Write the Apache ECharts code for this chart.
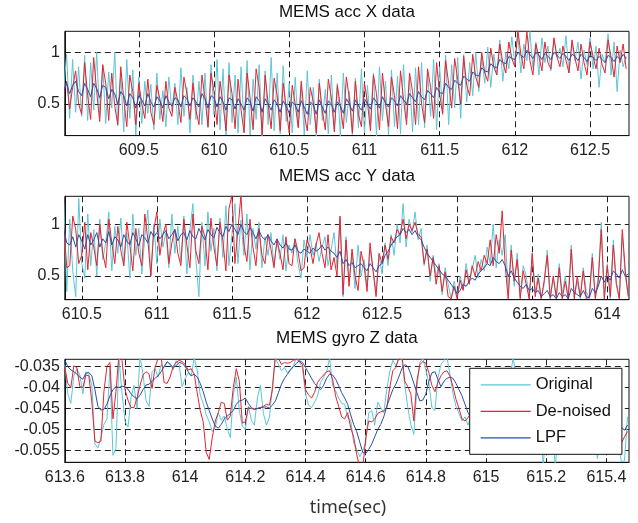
<!DOCTYPE html>
<html>
<head>
<meta charset="utf-8">
<script src="https://cdn.jsdelivr.net/npm/echarts@6/dist/echarts.min.js"></script>
<style>
  html, body { margin: 0; padding: 0; background: #ffffff; }
  #chart { width: 638px; height: 523px; }
</style>
</head>
<body>
<div id="chart"></div>
<script>
// Sample timing (seconds)
const accXStart = 609.0;
const accYStart = 610.38;
const gyroStart = 613.6;
const accStep = 0.02;
const gyroStep = 0.01;

// MEMS accelerometer X
const accXOriginal = [
  0.62, 0.98, 0.36, 0.93, 0.42, 0.86, 0.38, 0.97, 0.34, 0.9,
  0.44, 1.0, 0.37, 0.88, 0.31, 0.81, 0.46, 1.0, 0.29, 0.79,
  0.23, 0.93, 0.36, 0.83, 0.2, 0.76, 0.31, 0.72, 0.41, 0.69,
  0.25, 0.8, 0.35, 0.63, 0.28, 0.76, 0.43, 0.7, 0.3, 0.85,
  0.38, 0.66, 0.22, 0.78, 0.35, 0.72, 0.3, 0.8, 0.27, 0.88,
  0.4, 0.93, 0.25, 0.84, 0.2, 0.9, 0.32, 0.78, 0.22, 0.86,
  0.28, 0.92, 0.2, 0.74, 0.35, 0.88, 0.19, 0.82, 0.3, 0.95,
  0.24, 0.8, 0.21, 0.87, 0.33, 0.7, 0.22, 0.76, 0.28, 0.68,
  0.2, 0.82, 0.3, 0.66, 0.19, 0.74, 0.34, 0.64, 0.21, 0.78,
  0.26, 0.7, 0.19, 0.8, 0.32, 0.62, 0.2, 0.75, 0.27, 0.84,
  0.22, 0.68, 0.3, 0.8, 0.19, 0.86, 0.34, 0.72, 0.2, 0.83,
  0.28, 0.77, 0.21, 0.88, 0.36, 0.74, 0.23, 0.85, 0.3, 0.9,
  0.27, 0.8, 0.38, 0.93, 0.25, 0.86, 0.42, 0.97, 0.3, 0.88,
  0.46, 0.95, 0.36, 0.98, 0.52, 0.9, 0.58, 1.0, 0.62, 0.95,
  0.7, 1.05, 0.66, 0.98, 0.78, 1.12, 0.72, 1.0, 0.84, 1.15,
  0.88, 1.18, 0.8, 1.08, 0.92, 1.2, 0.85, 1.1, 0.78, 1.14,
  0.9, 1.06, 0.82, 1.12, 0.95, 1.04, 0.86, 1.16, 0.8, 1.08,
  0.92, 1.1, 0.74, 1.02, 0.88, 1.14, 0.84, 1.06, 0.66, 0.98,
  0.9, 1.18, 0.78, 1.1, 0.62, 1.02, 0.86, 0.96
];
const accXDenoised = [
  0.6, 0.72, 0.45, 0.66, 0.82, 0.5, 0.4, 0.9, 0.58, 0.35,
  0.95, 0.62, 0.33, 0.88, 0.7, 0.34, 0.8, 0.48, 0.3, 0.86,
  0.55, 0.28, 0.78, 0.62, 0.3, 0.7, 0.5, 0.36, 0.74, 0.42,
  0.3, 0.68, 0.55, 0.33, 0.72, 0.46, 0.38, 0.66, 0.52, 0.32,
  0.76, 0.6, 0.35, 0.7, 0.44, 0.3, 0.78, 0.56, 0.28, 0.8,
  0.62, 0.3, 0.72, 0.5, 0.24, 0.78, 0.6, 0.26, 0.74, 0.44,
  0.22, 0.8, 0.56, 0.25, 0.84, 0.66, 0.2, 0.78, 0.5, 0.26,
  0.75, 0.58, 0.24, 0.7, 0.46, 0.22, 0.68, 0.5, 0.27, 0.72,
  0.4, 0.24, 0.66, 0.52, 0.22, 0.7, 0.44, 0.25, 0.74, 0.56,
  0.23, 0.68, 0.48, 0.26, 0.76, 0.55, 0.22, 0.72, 0.4, 0.28,
  0.7, 0.52, 0.24, 0.78, 0.6, 0.25, 0.8, 0.5, 0.28, 0.76,
  0.58, 0.26, 0.82, 0.55, 0.3, 0.8, 0.62, 0.3, 0.86, 0.5,
  0.32, 0.84, 0.66, 0.36, 0.9, 0.6, 0.4, 0.92, 0.7, 0.46,
  0.94, 0.74, 0.5, 0.96, 0.68, 0.58, 0.98, 0.76, 0.66, 1.0,
  0.8, 0.72, 1.04, 0.86, 0.78, 1.08, 0.9, 0.8, 1.1, 0.94,
  0.86, 1.22, 0.98, 0.84, 1.2, 0.92, 0.78, 1.08, 0.96, 0.82,
  1.1, 0.9, 0.84, 1.14, 0.96, 0.86, 1.06, 0.92, 0.8, 1.12,
  0.94, 0.82, 1.08, 0.9, 0.78, 1.1, 0.96, 0.84, 1.04, 0.88,
  0.8, 1.12, 0.95, 0.76, 1.06, 0.9, 1.08, 0.84
];
const accXLpf = [
  0.62, 0.7, 0.6, 0.68, 0.72, 0.62, 0.58, 0.7, 0.64, 0.57,
  0.7, 0.65, 0.56, 0.68, 0.66, 0.55, 0.64, 0.6, 0.5, 0.62,
  0.58, 0.48, 0.6, 0.56, 0.46, 0.58, 0.54, 0.48, 0.6, 0.52,
  0.47, 0.57, 0.53, 0.46, 0.58, 0.52, 0.48, 0.56, 0.54, 0.47,
  0.58, 0.55, 0.48, 0.56, 0.52, 0.47, 0.6, 0.55, 0.46, 0.58,
  0.56, 0.47, 0.57, 0.52, 0.44, 0.56, 0.54, 0.45, 0.55, 0.5,
  0.44, 0.56, 0.52, 0.43, 0.57, 0.53, 0.42, 0.55, 0.5, 0.44,
  0.54, 0.5, 0.42, 0.53, 0.48, 0.41, 0.52, 0.49, 0.42, 0.53,
  0.47, 0.4, 0.52, 0.49, 0.4, 0.54, 0.47, 0.41, 0.53, 0.5,
  0.42, 0.52, 0.48, 0.41, 0.55, 0.5, 0.43, 0.54, 0.48, 0.44,
  0.55, 0.5, 0.45, 0.56, 0.52, 0.46, 0.57, 0.51, 0.47, 0.56,
  0.53, 0.48, 0.58, 0.54, 0.5, 0.6, 0.56, 0.52, 0.62, 0.57,
  0.54, 0.63, 0.6, 0.56, 0.66, 0.61, 0.6, 0.7, 0.66, 0.64,
  0.73, 0.7, 0.68, 0.77, 0.74, 0.72, 0.81, 0.78, 0.77, 0.85,
  0.82, 0.81, 0.89, 0.86, 0.85, 0.93, 0.9, 0.89, 0.96, 0.94,
  0.93, 1.0, 0.97, 0.95, 1.02, 0.98, 0.94, 1.0, 0.97, 0.93,
  0.99, 0.96, 0.93, 1.0, 0.97, 0.94, 0.99, 0.96, 0.92, 0.98,
  0.96, 0.92, 0.98, 0.95, 0.91, 0.97, 0.95, 0.92, 0.96, 0.93,
  0.9, 0.97, 0.95, 0.91, 0.96, 0.93, 0.98, 0.94
];

// MEMS accelerometer Y
const accYOriginal = [
  1.2, 0.35, 1.05, 0.55, 0.3, 1.25, 0.62, 0.48, 1.1, 0.6,
  0.95, 0.5, 1.05, 0.66, 0.82, 1.12, 0.55, 0.98, 0.72, 1.06,
  0.6, 0.92, 0.48, 1.1, 0.7, 0.96, 0.52, 0.88, 1.14, 0.5,
  1.0, 0.62, 1.05, 0.78, 0.92, 0.58, 1.1, 0.72, 0.98, 0.64,
  1.08, 0.52, 0.94, 1.2, 0.66, 0.3, 1.02, 0.6, 1.12, 0.74,
  0.96, 0.55, 1.06, 0.68, 1.18, 0.6, 0.9, 1.2, 0.62, 1.04,
  0.7, 1.1, 0.56, 0.96, 0.76, 1.02, 0.58, 0.88, 0.7, 0.92,
  0.6, 0.84, 0.66, 0.9, 0.55, 0.8, 0.72, 0.86, 0.62, 0.48,
  0.85, 0.68, 0.9, 0.7, 0.82, 0.64, 0.78, 0.88, 0.6, 0.75,
  0.92, 0.58, 1.05, 0.3, 0.88, 0.45, 0.72, 0.38, 0.8, 0.5,
  0.66, 0.4, 0.76, 0.56, 0.35, 0.7, 0.52, 0.82, 0.6, 0.9,
  0.7, 1.0, 0.82, 1.2, 0.78, 1.05, 0.92, 1.12, 0.85, 0.96,
  0.6, 0.8, 0.45, 0.7, 0.5, 0.62, 0.32, 0.58, 0.42, 0.28,
  0.45, 0.3, 0.5, 0.38, 0.62, 0.44, 0.56, 0.7, 0.48, 0.66,
  0.55, 0.78, 0.62, 1.0, 0.58, 0.85, 0.7, 0.9, 0.35, 0.8,
  0.4, 0.72, 0.3, 0.6, 0.5, 0.28, 0.7, 0.35, 0.52, 0.28,
  0.42, 0.75, 0.3, 0.48, 0.28, 0.62, 0.33, 0.5, 0.28, 0.8,
  0.3, 0.45, 0.28, 0.58, 0.35, 0.28, 0.72, 0.3, 0.5, 1.02,
  0.3, 0.62, 0.28, 0.85, 0.45, 0.28, 0.9, 0.5, 0.3
];
const accYDenoised = [
  1.0, 0.58, 0.6, 1.08, 0.95, 0.62, 0.7, 1.02, 0.56, 0.92,
  0.78, 0.6, 1.0, 0.72, 0.58, 1.05, 0.82, 0.62, 0.98, 0.75,
  0.6, 1.02, 0.8, 0.55, 0.96, 0.72, 0.6, 1.1, 0.85, 0.5,
  0.95, 1.12, 0.7, 0.9, 1.0, 0.62, 0.82, 0.95, 0.72, 0.6,
  1.05, 0.8, 0.58, 1.1, 0.74, 0.62, 0.98, 0.88, 0.56, 1.06,
  0.78, 0.6, 1.02, 0.84, 0.55, 1.15, 1.28, 0.62, 0.95, 1.28,
  0.8, 0.64, 1.05, 0.78, 0.6, 0.96, 0.7, 0.62, 0.9, 0.76,
  0.58, 0.85, 0.72, 0.56, 0.88, 0.62, 0.6, 0.86, 0.74, 0.55,
  0.58, 0.85, 0.78, 0.62, 0.8, 0.92, 0.72, 0.58, 0.9, 0.56,
  0.68, 0.5, 1.08, 0.32, 0.85, 0.4, 0.76, 0.5, 0.36, 0.74,
  0.6, 0.35, 0.82, 0.55, 0.3, 0.72, 0.62, 0.8, 0.66, 0.88,
  0.82, 0.95, 0.9, 1.05, 0.86, 1.0, 0.94, 1.02, 0.9, 0.88,
  0.62, 0.76, 0.5, 0.68, 0.42, 0.6, 0.35, 0.54, 0.3, 0.28,
  0.4, 0.28, 0.46, 0.36, 0.56, 0.42, 0.6, 0.5, 0.64, 0.55,
  0.7, 0.62, 0.85, 0.6, 0.9, 0.72, 1.13, 0.6, 0.28, 0.75,
  0.45, 0.66, 0.28, 0.55, 0.42, 0.28, 0.72, 0.3, 0.48, 0.28,
  0.46, 0.7, 0.28, 0.5, 0.3, 0.58, 0.28, 0.45, 0.28, 0.76,
  0.28, 0.5, 0.3, 0.55, 0.28, 0.3, 0.68, 0.28, 0.45, 0.95,
  0.28, 0.6, 0.3, 0.8, 0.42, 0.28, 0.95, 0.55, 0.3
];
const accYLpf = [
  0.95, 0.82, 0.8, 0.88, 0.78, 0.9, 0.84, 0.76, 0.9, 0.8,
  0.85, 0.92, 0.78, 0.86, 0.82, 0.93, 0.8, 0.88, 0.85, 0.78,
  0.9, 0.84, 0.8, 0.92, 0.86, 0.79, 0.9, 0.87, 0.82, 0.93,
  0.88, 0.92, 0.86, 0.9, 0.94, 0.86, 0.9, 0.95, 0.84, 0.9,
  0.92, 0.85, 0.94, 0.88, 0.86, 0.96, 0.9, 0.85, 0.95, 0.9,
  0.87, 0.97, 0.92, 0.88, 0.98, 0.93, 1.0, 0.95, 0.9, 1.0,
  0.93, 0.9, 0.97, 0.92, 0.86, 0.94, 0.88, 0.85, 0.9, 0.84,
  0.8, 0.86, 0.8, 0.77, 0.82, 0.76, 0.75, 0.8, 0.74, 0.72,
  0.76, 0.74, 0.72, 0.77, 0.74, 0.76, 0.8, 0.75, 0.78, 0.74,
  0.72, 0.68, 0.74, 0.62, 0.66, 0.6, 0.63, 0.58, 0.6, 0.62,
  0.58, 0.55, 0.62, 0.58, 0.54, 0.6, 0.62, 0.7, 0.74, 0.8,
  0.84, 0.88, 0.9, 0.96, 0.92, 0.95, 0.9, 0.94, 0.88, 0.85,
  0.78, 0.72, 0.68, 0.64, 0.6, 0.56, 0.52, 0.5, 0.46, 0.42,
  0.38, 0.33, 0.36, 0.42, 0.4, 0.45, 0.48, 0.46, 0.52, 0.55,
  0.58, 0.62, 0.6, 0.68, 0.64, 0.62, 0.66, 0.6, 0.5, 0.55,
  0.48, 0.44, 0.4, 0.38, 0.42, 0.36, 0.38, 0.34, 0.36, 0.3,
  0.33, 0.36, 0.3, 0.32, 0.28, 0.34, 0.3, 0.32, 0.28, 0.38,
  0.34, 0.32, 0.3, 0.36, 0.3, 0.29, 0.38, 0.34, 0.4, 0.5,
  0.44, 0.5, 0.46, 0.55, 0.52, 0.48, 0.56, 0.5, 0.52
];

// MEMS gyroscope Z
const gyroZOriginal = [
  -0.0345, -0.0415, -0.0438, -0.0372, -0.0355, -0.037, -0.0415, -0.0362, -0.0368, -0.0395,
  -0.0535, -0.0545, -0.052, -0.0488, -0.0475, -0.0352, -0.0562, -0.0545, -0.033, -0.0412,
  -0.048, -0.0495, -0.0425, -0.0395, -0.045, -0.0325, -0.0368, -0.0432, -0.0445, -0.0362,
  -0.0355, -0.0375, -0.0345, -0.0352, -0.034, -0.0342, -0.0358, -0.0336, -0.0345, -0.0398,
  -0.0378, -0.0365, -0.0372, -0.033, -0.0358, -0.0418, -0.0438, -0.0465, -0.0482, -0.0505,
  -0.0495, -0.046, -0.0478, -0.0468, -0.0498, -0.052, -0.0418, -0.0375, -0.0455, -0.0492,
  -0.05, -0.0445, -0.0478, -0.049, -0.0425, -0.0395, -0.0462, -0.049, -0.0472, -0.0395,
  -0.033, -0.0345, -0.036, -0.0352, -0.0365, -0.0356, -0.0348, -0.0328, -0.0338, -0.0355,
  -0.0415, -0.0442, -0.0448, -0.0435, -0.042, -0.0388, -0.0375, -0.0362, -0.033, -0.0395,
  -0.0408, -0.0425, -0.0438, -0.044, -0.0472, -0.0478, -0.0532, -0.0548, -0.0565, -0.0552,
  -0.0532, -0.046, -0.0455, -0.049, -0.0435, -0.0448, -0.046, -0.0405, -0.0362, -0.0335,
  -0.0348, -0.033, -0.0332, -0.0395, -0.0448, -0.0488, -0.0512, -0.04, -0.034, -0.033,
  -0.0358, -0.039, -0.0448, -0.0455, -0.0378, -0.0345, -0.0335, -0.0328, -0.0368, -0.0415,
  -0.0445, -0.0462, -0.048, -0.047, -0.049, -0.047, -0.0445, -0.0412, -0.0395, -0.0405,
  -0.0378, -0.042, -0.0445, -0.0472, -0.0488, -0.0458, -0.0425, -0.0398, -0.0372, -0.033,
  -0.0368, -0.041, -0.0438, -0.0465, -0.0482, -0.0468, -0.0452, -0.0462, -0.048, -0.0585,
  -0.0498, -0.0475, -0.051, -0.0585, -0.052, -0.0488, -0.047, -0.0455, -0.046, -0.0478,
  -0.0468, -0.0452, -0.0448, -0.0462, -0.0475, -0.0472, -0.0488, -0.057, -0.0505, -0.0492,
  -0.0552, -0.0505, -0.0498, -0.0515, -0.0535, -0.0578, -0.0575, -0.047
];
const gyroZDenoised = [
  -0.0352, -0.039, -0.04, -0.0348, -0.0352, -0.0398, -0.04, -0.037, -0.0372, -0.0435,
  -0.0528, -0.0532, -0.0528, -0.041, -0.035, -0.034, -0.0475, -0.041, -0.032, -0.0335,
  -0.0405, -0.043, -0.0448, -0.0448, -0.0425, -0.0395, -0.037, -0.0362, -0.0368, -0.0402,
  -0.0352, -0.033, -0.0325, -0.0388, -0.039, -0.0375, -0.035, -0.034, -0.0335, -0.0338,
  -0.0345, -0.0358, -0.0355, -0.0368, -0.0412, -0.0455, -0.0482, -0.0555, -0.0572, -0.052,
  -0.048, -0.046, -0.0435, -0.0438, -0.0478, -0.0468, -0.04, -0.0355, -0.0385, -0.0485,
  -0.0482, -0.0448, -0.045, -0.0452, -0.045, -0.0448, -0.0445, -0.044, -0.0442, -0.0405,
  -0.032, -0.033, -0.0345, -0.034, -0.0342, -0.034, -0.0335, -0.0332, -0.0338, -0.0345,
  -0.0405, -0.0418, -0.0425, -0.0412, -0.0388, -0.0378, -0.037, -0.0362, -0.036, -0.038,
  -0.042, -0.0445, -0.047, -0.0475, -0.046, -0.0495, -0.0518, -0.056, -0.059, -0.0595,
  -0.052, -0.048, -0.0482, -0.0475, -0.0462, -0.0458, -0.0456, -0.0448, -0.04, -0.036,
  -0.0352, -0.033, -0.032, -0.0385, -0.0398, -0.0415, -0.048, -0.0385, -0.0345, -0.0338,
  -0.0342, -0.0365, -0.0395, -0.041, -0.0388, -0.0372, -0.0362, -0.036, -0.0372, -0.0398,
  -0.0428, -0.045, -0.0475, -0.048, -0.0472, -0.046, -0.0442, -0.042, -0.04, -0.0385,
  -0.039, -0.0405, -0.043, -0.0455, -0.047, -0.0462, -0.0438, -0.041, -0.0392, -0.038,
  -0.0385, -0.04, -0.0425, -0.0448, -0.0465, -0.0478, -0.047, -0.0452, -0.0445, -0.046,
  -0.048, -0.05, -0.0532, -0.0548, -0.0525, -0.049, -0.0462, -0.0448, -0.045, -0.0465,
  -0.0475, -0.046, -0.0445, -0.0442, -0.0455, -0.047, -0.0488, -0.05, -0.0508, -0.0502,
  -0.0495, -0.05, -0.0512, -0.0528, -0.0538, -0.0532, -0.0518, -0.0505
];
const gyroZLpf = [
  -0.0335, -0.035, -0.0358, -0.0362, -0.0368, -0.0375, -0.038, -0.0366, -0.0364, -0.0372,
  -0.0405, -0.0445, -0.0454, -0.0452, -0.044, -0.042, -0.0405, -0.0398, -0.04, -0.0397,
  -0.0398, -0.0404, -0.0415, -0.0422, -0.0427, -0.0418, -0.0405, -0.0394, -0.0392, -0.0385,
  -0.0378, -0.0372, -0.0362, -0.035, -0.0338, -0.0345, -0.0352, -0.0348, -0.034, -0.0342,
  -0.035, -0.0362, -0.0372, -0.0368, -0.0375, -0.039, -0.041, -0.0435, -0.0455, -0.0475,
  -0.0492, -0.0497, -0.0488, -0.0475, -0.0468, -0.0462, -0.0455, -0.044, -0.0432, -0.043,
  -0.0425, -0.0438, -0.0448, -0.0452, -0.045, -0.0448, -0.0447, -0.0446, -0.0449, -0.0442,
  -0.0432, -0.0412, -0.0392, -0.0378, -0.0368, -0.0358, -0.035, -0.0342, -0.0336, -0.034,
  -0.0352, -0.0365, -0.0378, -0.039, -0.0398, -0.0405, -0.0395, -0.0378, -0.0368, -0.037,
  -0.038, -0.0395, -0.0412, -0.0425, -0.044, -0.0465, -0.0488, -0.0505, -0.053, -0.0555,
  -0.0558, -0.0548, -0.0535, -0.0518, -0.05, -0.0488, -0.047, -0.0445, -0.0425, -0.0405,
  -0.0392, -0.0375, -0.0355, -0.0345, -0.035, -0.0368, -0.039, -0.0412, -0.0432, -0.043,
  -0.0415, -0.0385, -0.0365, -0.0362, -0.038, -0.0398, -0.0385, -0.0378, -0.0375, -0.0378,
  -0.039, -0.0405, -0.042, -0.044, -0.046, -0.0472, -0.0478, -0.0475, -0.0465, -0.045,
  -0.0438, -0.0425, -0.0418, -0.042, -0.043, -0.0445, -0.0458, -0.0462, -0.0455, -0.044,
  -0.042, -0.0405, -0.0398, -0.0402, -0.0415, -0.0432, -0.0448, -0.046, -0.047, -0.0478,
  -0.0482, -0.0475, -0.046, -0.0445, -0.0435, -0.043, -0.0438, -0.045, -0.0462, -0.047,
  -0.0468, -0.0458, -0.0448, -0.0442, -0.0445, -0.0455, -0.0465, -0.0472, -0.0478, -0.048,
  -0.0478, -0.047, -0.0462, -0.0465, -0.0478, -0.0495, -0.0502, -0.049
];

// Axis ticks and labels
const accXTimeTicks = [609.5, 610, 610.5, 611, 611.5, 612, 612.5];
const accYTimeTicks = [610.5, 611, 611.5, 612, 612.5, 613, 613.5, 614];
const gyroTimeTicks = [613.6, 613.8, 614, 614.2, 614.4, 614.6, 614.8, 615, 615.2, 615.4];
const accValueTicks = [0.5, 1];
const gyroValueTicks = [-0.055, -0.05, -0.045, -0.04, -0.035];
const panelTitles = ['MEMS acc X data', 'MEMS acc Y data', 'MEMS gyro Z data'];
const seriesNames = ['Original', 'De-noised', 'LPF'];
const xAxisTitle = 'time(sec)';

const colors = ['#5cc6d6', '#e8232e', '#2c4ea6'];
const tickFont = 'Liberation Sans, Arial, Helvetica, sans-serif';

function toPoints(start, step, values) {
  return values.map((v, i) => [+(start + i * step).toFixed(4), v]);
}

// plot-area boxes (px)
const panels = [
  { top: 31.3, height: 104.3, xMin: 609.008, xMax: 612.759, yMin: 0.194, yMax: 1.203,
    xTicks: accXTimeTicks, yTicks: accValueTicks, start: accXStart, step: accStep,
    data: [accXOriginal, accXDenoised, accXLpf], titleY: 12.5 },
  { top: 196.3, height: 103.4, xMin: 610.387, xMax: 614.1445, yMin: 0.271, yMax: 1.271,
    xTicks: accYTimeTicks, yTicks: accValueTicks, start: accYStart, step: accStep,
    data: [accYOriginal, accYDenoised, accYLpf], titleY: 176.8 },
  { top: 359.3, height: 103.0, xMin: 613.6, xMax: 615.475, yMin: -0.05787, yMax: -0.03325,
    xTicks: gyroTimeTicks, yTicks: gyroValueTicks, start: gyroStart, step: gyroStep,
    data: [gyroZOriginal, gyroZDenoised, gyroZLpf], titleY: 338.8 }
];
const plotLeft = 64.8;
const plotWidth = 564.2;

const gridLine = { show: true, lineStyle: { color: '#222', width: 1, type: [6, 4] } };
const frameLine = { show: true, onZero: false, lineStyle: { color: '#111', width: 1 } };

const option = {
  animation: false,
  backgroundColor: '#ffffff',
  grid: panels.map(p => ({
    left: plotLeft, top: p.top, width: plotWidth, height: p.height,
    show: true, borderColor: '#111', borderWidth: 1, backgroundColor: 'transparent',
    containLabel: false
  })),
  xAxis: panels.map((p, k) => ({
    type: 'value', gridIndex: k, min: p.xMin, max: p.xMax,
    axisLine: frameLine,
    axisTick: { show: true, inside: true, length: 4, customValues: p.xTicks, lineStyle: { color: '#111' } },
    axisLabel: { customValues: p.xTicks, margin: 7, fontSize: 16, color: '#222', fontFamily: tickFont,
                 formatter: v => String(+v.toFixed(3)) },
    splitLine: gridLine
  })),
  yAxis: panels.map((p, k) => ({
    type: 'value', gridIndex: k, min: p.yMin, max: p.yMax,
    axisLine: frameLine,
    axisTick: { show: true, inside: true, length: 4, customValues: p.yTicks, lineStyle: { color: '#111' } },
    axisLabel: { customValues: p.yTicks, margin: 5, fontSize: 16, color: '#222', fontFamily: tickFont,
                 formatter: v => String(+v.toFixed(4)) },
    splitLine: gridLine
  })),
  legend: {
    data: seriesNames,
    orient: 'vertical',
    left: 469.7, top: 368.3,
    z: 20,
    padding: [8, 11, 8, 11],
    itemWidth: 50, itemHeight: 14, itemGap: 9.5,
    icon: 'path://M0,0 L50,0 L50,1.2 L0,1.2 Z',
    backgroundColor: '#ffffff', borderColor: '#111', borderWidth: 1, borderRadius: 0,
    textStyle: { fontSize: 16.5, color: '#111', fontFamily: tickFont },
    selectedMode: false
  },
  graphic: [
    ...panels.map((p, k) => ({
      type: 'text', x: plotLeft + plotWidth / 2, y: p.titleY,
      style: { text: panelTitles[k], fill: '#111', font: '17px ' + tickFont,
               textAlign: 'center', textVerticalAlign: 'middle' }
    })),
    {
      type: 'text', x: 348, y: 508,
      style: { text: xAxisTitle, fill: '#333', font: '18px "Noto Sans", "Open Sans", sans-serif',
               textAlign: 'center', textVerticalAlign: 'middle' }
    }
  ],
  series: []
};

panels.forEach((p, k) => {
  p.data.forEach((vals, s) => {
    option.series.push({
      name: seriesNames[s], type: 'line', xAxisIndex: k, yAxisIndex: k,
      data: toPoints(p.start, p.step, vals),
      symbol: 'none', clip: true, silent: true,
      lineStyle: { color: colors[s], width: 1 },
      itemStyle: { color: colors[s] },
      z: 2, zlevel: 0
    });
  });
});

const chart = echarts.init(document.getElementById('chart'), null, { renderer: 'canvas' });
chart.setOption(option);
</script>
</body>
</html>
